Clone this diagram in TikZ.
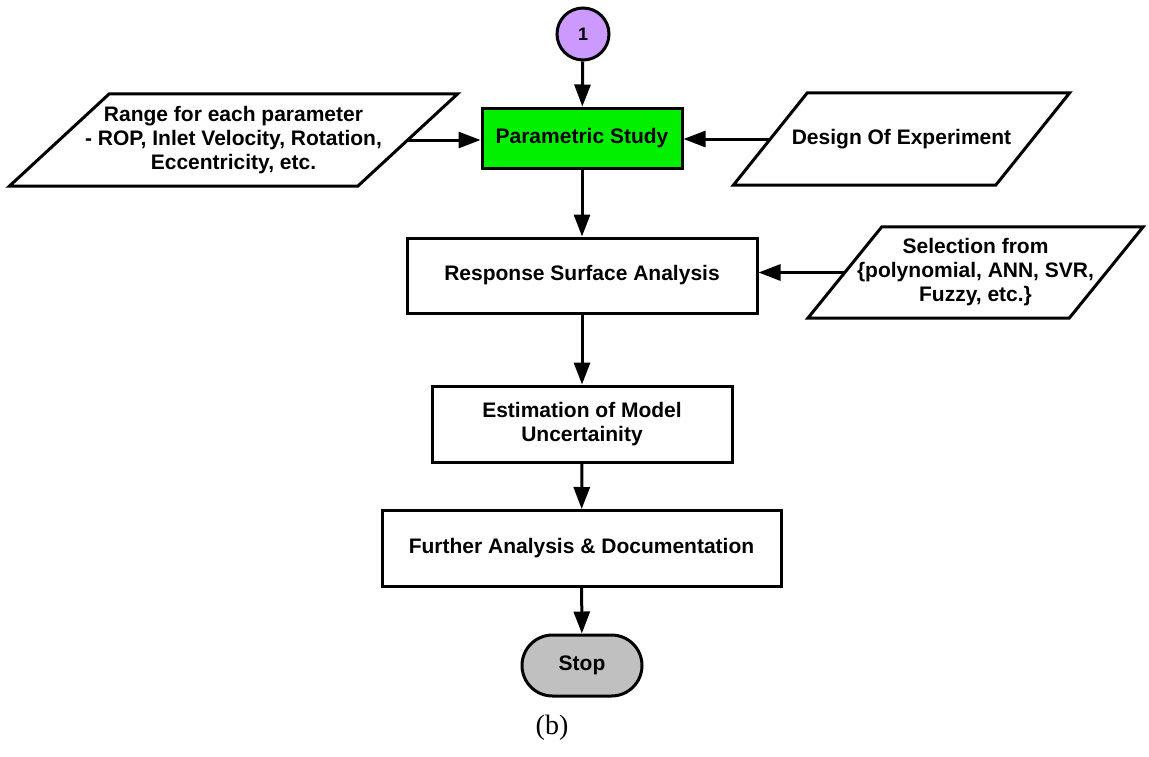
\documentclass[tikz,border=0pt]{standalone}
\usepackage{fontspec}
\setmainfont{Liberation Sans}
\newfontfamily\capfont{Liberation Serif}
\usetikzlibrary{arrows.meta,positioning,shapes.misc}
\definecolor{procgreen}{RGB}{0,240,0}
\definecolor{connpurple}{RGB}{204,153,255}
\definecolor{stopgray}{RGB}{192,192,192}

\begin{document}
\begin{tikzpicture}[
    x=1pt, y=-1pt,
    font=\fontsize{21}{24}\selectfont\bfseries,
    box/.style={draw, line width=3pt, rectangle, align=center, inner sep=0},
    iobox/.style={rectangle, align=center, inner sep=0},
    ioline/.style={draw, line width=3pt, line join=miter},
    arr/.style={-{Triangle[length=22pt,width=16pt]}, line width=3pt},
    ]
\useasboundingbox (0,0) rectangle (1149,756);

\node (one) [circle, draw, line width=3pt, fill=connpurple, minimum size=52pt, inner sep=0,
    font=\fontsize{18}{20}\selectfont\bfseries] at (583,34) {1};
\node (ps)  [box, fill=procgreen, minimum width=200pt, minimum height=60pt] at (582,138) {Parametric Study};
\node (rng) [iobox, minimum width=348pt, minimum height=92pt] at (233.5,140)
    {Range for each parameter\\- ROP, Inlet Velocity, Rotation,\\Eccentricity, etc.};
\node (doe) [iobox, minimum width=262pt, minimum height=92pt] at (901.5,139) {Design Of Experiment};
\node (rsa) [box, minimum width=350pt, minimum height=75pt] at (582,275.5) {Response Surface Analysis};
\node (sel) [iobox, minimum width=261pt, minimum height=91pt] at (975.5,272.5)
    {Selection from\\\{polynomial, ANN, SVR,\\Fuzzy, etc.\}};
\node (emu) [box, minimum width=300pt, minimum height=76pt] at (582,424) {Estimation of Model\\Uncertainity};
\node (fad) [box, minimum width=399pt, minimum height=76pt] at (581.5,548.5) {Further Analysis \& Documentation};
\node (stop) [rounded rectangle, draw, line width=3pt, fill=stopgray, minimum width=120pt,
    minimum height=61pt, inner sep=0] at (582,665.5) {Stop};
\node (cap) [font=\capfont\fontsize{28}{30}\selectfont] at (552,728) {(b)};

% slanted outlines of the input boxes
\foreach \n/\s in {rng/50,doe/37,sel/37}
    \draw[ioline] ([xshift=-\s pt]\n.south west) -- ([xshift=-\s pt]\n.south east)
        -- ([xshift=\s pt]\n.north east) -- ([xshift=\s pt]\n.north west) -- cycle;

\draw[arr] (one) -- (ps);
\draw[arr] (rng.east) -- (rng.east -| ps.west);
\draw[arr] (doe.west) -- (doe.west -| ps.east);
\draw[arr] (ps) -- (rsa);
\draw[arr] (sel.west) -- (sel.west -| rsa.east);
\draw[arr] (rsa) -- (emu);
\draw[arr] (emu) -- (fad);
\draw[arr] (fad) -- (stop);

\end{tikzpicture}
\end{document}
